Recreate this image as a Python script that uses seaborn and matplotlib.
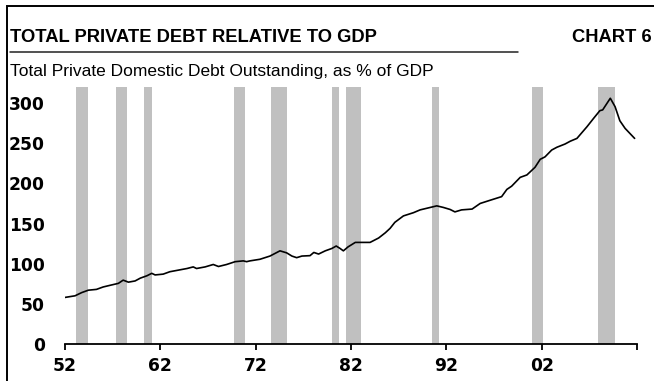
import matplotlib
matplotlib.use("Agg")
import matplotlib.pyplot as plt
from matplotlib.lines import Line2D
import seaborn as sns
import pandas as pd

# ---- data ----
years = [1952.0, 1953.05, 1953.75, 1954.45, 1955.3, 1956.0, 1956.7, 1957.6, 1958.1, 1958.65,
         1959.35, 1959.9, 1960.6, 1961.1, 1961.45, 1962.3, 1963.0, 1963.9, 1964.8, 1965.45,
         1965.8, 1966.7, 1967.55, 1968.1, 1968.95, 1969.85, 1970.7, 1971.05, 1971.4, 1972.45,
         1973.5, 1974.55, 1975.25, 1975.8, 1976.3, 1976.85, 1977.7, 1978.1, 1978.6, 1979.3,
         1980.0, 1980.45, 1980.85, 1981.2, 1981.7, 1982.45, 1984.0, 1984.9, 1985.6, 1986.1,
         1986.6, 1987.5, 1988.55, 1989.25, 1989.95, 1991.0, 1991.7, 1992.4, 1992.9, 1993.6,
         1994.7, 1995.55, 1996.6, 1997.8, 1998.35, 1998.85, 1999.75, 2000.45, 2001.3, 2001.85,
         2002.35, 2003.05, 2003.6, 2004.45, 2005.0, 2005.7, 2006.75, 2007.45, 2008.1, 2008.4,
         2009.2, 2009.7, 2010.2, 2010.75, 2011.75]
debt_pct = [58, 60, 64, 67, 68, 71, 73, 75.5, 79.5, 77,
            78.5, 82, 85, 88, 86, 87, 90, 92, 94, 96,
            94, 96, 99, 96.5, 99, 102.5, 103.5, 102.5, 103.5, 105.5,
            109.5, 116, 113.5, 109.5, 107.5, 109.5, 110, 114, 112, 116,
            119, 122, 119, 116, 121, 126.5, 126.5, 132, 138.5, 144,
            151.5, 159.5, 163.5, 167, 169, 172, 170, 167.5, 164.5, 167,
            168, 175, 179, 183.5, 192.5, 196.5, 207.5, 210.5, 220, 230,
            233, 241.5, 245, 249, 252.5, 256, 270.5, 281, 290.5, 291.5,
            306, 295.5, 278, 268.5, 256]

recession_start = [1953.2, 1957.35, 1960.25, 1969.7, 1973.65, 1980.0, 1981.5, 1990.5, 2001.0, 2007.9]
recession_end = [1954.45, 1958.5, 1961.15, 1970.9, 1975.3, 1980.7, 1983.05, 1991.2, 2002.1, 2009.7]

tick_years = [1952, 1962, 1972, 1982, 1992, 2002, 2012]
tick_labels = ["52", "62", "72", "82", "92", "02", ""]
y_ticks = [0, 50, 100, 150, 200, 250, 300]

title = "TOTAL PRIVATE DEBT RELATIVE TO GDP"
chart_no = "CHART 6"
subtitle = "Total Private Domestic Debt Outstanding, as % of GDP"

# ---- style ----
sns.set_theme(style="white")
plt.rcParams["font.family"] = ["DejaVu Sans"]

W, H = 654, 381
fig = plt.figure(figsize=(W / 100, H / 100), dpi=100)
fig.patch.set_facecolor("white")

def fx(px):
    return px / W

def fy(py):
    return (H - py) / H

ax = fig.add_axes([fx(65), fy(344), fx(637) - fx(65), fy(87) - fy(344)])
ax.set_facecolor("white")

for s, e in zip(recession_start, recession_end):
    ax.axvspan(s, e, color="#c0c0c0", lw=0, zorder=1)

df = pd.DataFrame({"year": years, "debt": debt_pct})
sns.lineplot(data=df, x="year", y="debt", ax=ax, color="black", lw=1.2, zorder=3)

ax.set_xlim(1952, 2012)
ax.set_ylim(0, 320)
ax.set_xlabel("")
ax.set_ylabel("")

ax.set_xticks(tick_years)
ax.set_xticklabels(tick_labels)
ax.set_yticks(y_ticks)
ax.set_yticklabels([str(v) for v in y_ticks])

for sp in ["top", "right", "left"]:
    ax.spines[sp].set_visible(False)
ax.spines["bottom"].set_color("black")
ax.spines["bottom"].set_linewidth(1.3)
ax.spines["bottom"].set_zorder(4)

ax.tick_params(axis="x", direction="out", length=4.5, width=1.3, color="black",
               pad=5.2, labelsize=12.3, labelcolor="black", bottom=True)
ax.tick_params(axis="y", length=0, pad=14.4, labelsize=12.3, labelcolor="black", left=False)
for lab in ax.get_xticklabels() + ax.get_yticklabels():
    lab.set_fontweight("bold")
    lab.set_family("DejaVu Sans")
ax.grid(False)

# ---- header ----
fig.text(fx(10), fy(41.7), title, ha="left", va="baseline", fontsize=13.2,
         fontweight="bold", family=["Liberation Sans", "DejaVu Sans"], color="black")
fig.text(fx(652), fy(41.7), chart_no, ha="right", va="baseline", fontsize=13.2,
         fontweight="bold", family=["Liberation Sans", "DejaVu Sans"], color="black")
fig.text(fx(10), fy(76), subtitle, ha="left", va="baseline", fontsize=12.5,
         family=["Liberation Sans", "DejaVu Sans"], color="black")

fig.add_artist(Line2D([fx(10), fx(518)], [fy(51.7), fy(51.7)], color="#222222", lw=1.1))
fig.add_artist(Line2D([fx(6.5), fx(6.5), fx(660)], [fy(390), fy(6), fy(6)],
                      color="black", lw=1.4, solid_joinstyle="miter"))

fig.savefig("out.png", dpi=100)
